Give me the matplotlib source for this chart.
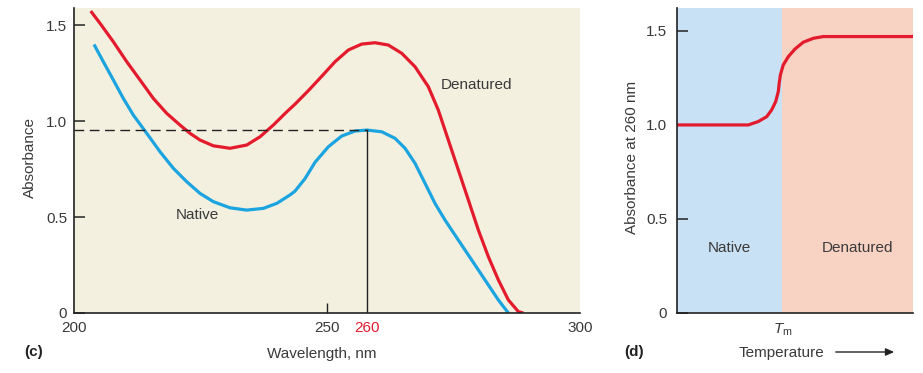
import numpy as np
import matplotlib
matplotlib.use("Agg")
import matplotlib.pyplot as plt

plt.rcParams['font.family'] = ['Liberation Sans', 'DejaVu Sans']
plt.rcParams['mathtext.fontset'] = 'custom'
plt.rcParams['mathtext.rm'] = 'Liberation Sans'
plt.rcParams['mathtext.it'] = 'Liberation Sans:italic'

# (c) absorbance spectra
wl_denatured = [203.30, 205.14, 207.77, 210.42, 213.04, 215.67, 218.32, 220.95,
                222.92, 224.90, 227.53, 230.83, 234.13, 236.76, 239.39, 242.04,
                243.68, 246.30, 248.95, 252.00, 255.33, 258.68, 261.50, 264.00,
                266.52, 269.01, 271.51, 273.39, 275.27, 277.15, 279.03, 280.91,
                282.79, 284.67, 286.54, 288.42, 289.36]
abs_denatured = [1.573, 1.509, 1.413, 1.309, 1.214, 1.118, 1.040, 0.979,
                 0.936, 0.901, 0.871, 0.858, 0.875, 0.918, 0.979, 1.048,
                 1.088, 1.158, 1.233, 1.309, 1.370, 1.401, 1.408, 1.396,
                 1.353, 1.283, 1.179, 1.057, 0.901, 0.745, 0.589, 0.432,
                 0.293, 0.172, 0.068, 0.007, 0.0]

wl_native = [203.95, 205.79, 207.77, 209.74, 211.72, 214.37, 217.00, 219.62,
             222.27, 224.90, 227.53, 230.83, 234.13, 237.41, 240.06, 242.69,
             243.68, 245.65, 247.63, 250.33, 253.68, 257.00, 260.00, 262.76,
             265.26, 267.14, 269.01, 270.89, 272.77, 274.65, 277.15, 279.66,
             282.16, 284.66, 286.54]
abs_native = [1.399, 1.309, 1.214, 1.118, 1.031, 0.936, 0.840, 0.754,
              0.684, 0.623, 0.580, 0.548, 0.536, 0.545, 0.571, 0.615,
              0.635, 0.700, 0.785, 0.866, 0.922, 0.948, 0.953, 0.944,
              0.910, 0.858, 0.780, 0.676, 0.571, 0.484, 0.380, 0.276,
              0.172, 0.068, 0.0]

wl_ticks = [200, 250, 260, 300]
wl_tick_labels = ['200', '250', '260', '300']
abs_ticks = [0, 0.5, 1.0, 1.5]
abs_tick_labels = ['0', '0.5', '1.0', '1.5']
peak_wl = 260
peak_abs = 0.953

# (d) melting curve (temperature in arbitrary units, 0-100)
temp = [0, 24.6, 30.2, 34.4, 38.0, 40.1, 41.8, 42.9, 43.3, 43.8, 45.0, 47.2,
        50.0, 53.5, 57.8, 62.0, 66.9, 100]
abs_260 = [1.0, 1.0, 1.0, 1.018, 1.044, 1.080, 1.124, 1.177, 1.222, 1.266,
           1.319, 1.364, 1.404, 1.440, 1.461, 1.470, 1.470, 1.470]
tm = 44.6

red = '#e31b2d'
blue = '#1ba4df'
ink = '#222222'
grey = '#3a3a3a'
fs = 11

fig = plt.figure(figsize=(9.23, 3.73), dpi=100)

# ---- panel (c)
ax1 = fig.add_axes([0.0802, 0.1609, 0.5482, 0.8177])
ax1.set_facecolor('#f3f0e0')

# the printed axis is not evenly spaced: 260 sits right under the peak
scale_nm = [200, 250, 260, 300]
scale_pos = [0, 253, 293, 506]
ax1.set_xscale('function', functions=(lambda x: np.interp(x, scale_nm, scale_pos),
                                      lambda p: np.interp(p, scale_pos, scale_nm)))
ax1.set_xlim(200, 300)
ax1.set_ylim(0, 1.589)

ax1.plot(wl_denatured, abs_denatured, color=red, lw=2.3, solid_capstyle='butt',
         solid_joinstyle='round')
ax1.plot(wl_native, abs_native, color=blue, lw=2.3, solid_capstyle='butt',
         solid_joinstyle='round')
ax1.plot([200, peak_wl], [peak_abs, peak_abs], color=ink, lw=1.0, dashes=(7, 4))
ax1.plot([peak_wl, peak_wl], [0, peak_abs], color=ink, lw=1.0)

ax1.text(224.3, 0.51, 'Native', fontsize=fs, color=grey, ha='center', va='center')
ax1.text(280.5, 1.19, 'Denatured', fontsize=fs, color=grey, ha='center', va='center')

for s in ['top', 'right']:
    ax1.spines[s].set_visible(False)
for s in ['left', 'bottom']:
    ax1.spines[s].set_color(ink)
    ax1.spines[s].set_linewidth(1.2)

ax1.xaxis.remove_overlapping_locs = False
ax1.set_xticks(wl_ticks)
ax1.set_xticklabels(wl_tick_labels)
ax1.set_xticks([250], minor=True)
ax1.tick_params(axis='x', which='major', length=0, pad=6, labelsize=fs,
                labelcolor=grey)
ax1.tick_params(axis='x', which='minor', direction='in', length=7.5, width=1.0,
                color=ink)
ax1.get_xticklabels()[2].set_color(red)
ax1.set_yticks(abs_ticks)
ax1.set_yticklabels(abs_tick_labels)
ax1.tick_params(axis='y', direction='in', length=8, width=1.1, color=ink, pad=5,
                labelsize=fs, labelcolor=grey)

# ---- panel (d)
ax2 = fig.add_axes([0.7335, 0.1609, 0.2557, 0.8177])
ax2.set_xlim(0, 100)
ax2.set_ylim(0, 1.622)
ax2.axvspan(0, tm, color='#c9e1f4', lw=0)
ax2.axvspan(tm, 100, color='#f8d2c2', lw=0)
ax2.plot(temp, abs_260, color=red, lw=2.3, solid_joinstyle='round')

ax2.text(22, 0.346, 'Native', fontsize=fs, color=grey, ha='center', va='center')
ax2.text(76.3, 0.346, 'Denatured', fontsize=fs, color=grey, ha='center', va='center')

for s in ['top', 'right']:
    ax2.spines[s].set_visible(False)
for s in ['left', 'bottom']:
    ax2.spines[s].set_color(ink)
    ax2.spines[s].set_linewidth(1.2)

ax2.set_xticks([tm])
ax2.set_xticklabels([r'$T_\mathrm{m}$'])
ax2.tick_params(axis='x', length=0, pad=6, labelsize=fs, labelcolor=grey)
ax2.set_yticks(abs_ticks)
ax2.set_yticklabels(abs_tick_labels)
ax2.tick_params(axis='y', direction='in', length=8, width=1.1, color=ink, pad=7,
                labelsize=fs, labelcolor=grey)

# ---- labels outside the axes
fig.text(0.0325, 0.579, 'Absorbance', rotation=90, fontsize=fs, color=grey,
         ha='center', va='center')
fig.text(0.6847, 0.579, 'Absorbance at 260 nm', rotation=90, fontsize=fs,
         color=grey, ha='center', va='center')
fig.text(0.349, 0.0509, 'Wavelength, nm', fontsize=fs, color=grey,
         ha='center', va='center')
fig.text(0.8462, 0.0536, 'Temperature', fontsize=fs, color=grey,
         ha='center', va='center')
fig.text(0.0368, 0.0563, '(c)', fontsize=fs, fontweight='bold', color=ink,
         ha='center', va='center')
fig.text(0.687, 0.0563, '(d)', fontsize=fs, fontweight='bold', color=ink,
         ha='center', va='center')
fig.patches.append(matplotlib.patches.FancyArrowPatch(
    (0.9025, 0.0563), (0.9718, 0.0563), transform=fig.transFigure,
    arrowstyle='-|>,head_length=5,head_width=2.2', color=ink, lw=1.0))

fig.savefig('out.png', dpi=100)
